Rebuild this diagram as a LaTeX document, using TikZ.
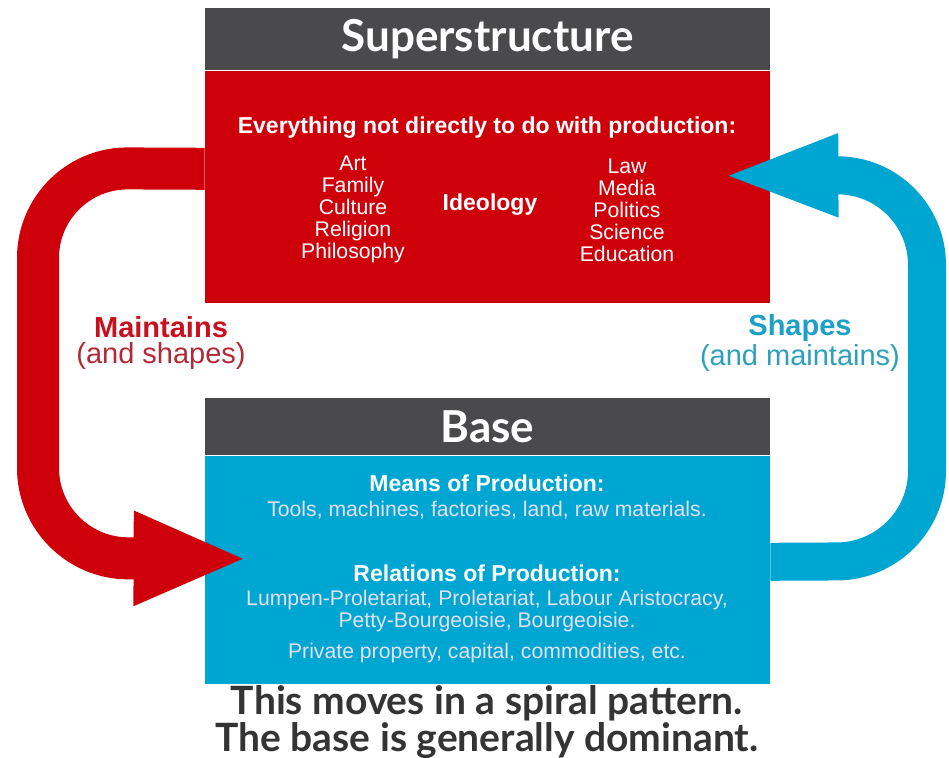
\documentclass[tikz,border=0pt]{standalone}
\usepackage{fontspec}
\setmainfont{Liberation Sans}
\newfontfamily\gillfont{Lato}
\usepackage{tikz}
\usetikzlibrary{arrows.meta,positioning,calc}

\definecolor{hdrgray}{RGB}{74,74,76}
\definecolor{suprred}{RGB}{206,0,10}
\definecolor{basecyan}{RGB}{0,166,210}
\definecolor{basetext}{RGB}{228,224,245}
\definecolor{capgray}{RGB}{52,52,52}
\definecolor{mainred}{RGB}{200,16,30}
\definecolor{softred}{RGB}{178,42,56}
\definecolor{shapeblue}{RGB}{28,160,200}
\definecolor{softblue}{RGB}{45,160,190}

\begin{document}
\begin{tikzpicture}[x=0.5pt,y=-0.5pt,
    hdr/.style={fill=hdrgray, text=white, minimum width=282.5pt, inner sep=0pt,
      font=\gillfont\bfseries\fontsize{22}{24}\selectfont},
    panel/.style={minimum width=282.5pt, inner sep=0pt},
    item/.style={text=white, align=center, font=\fontsize{10.6}{11}\selectfont},
    itembold/.style={item, font=\bfseries\fontsize{11.5}{12}\selectfont},
    flow/.style={line width=21pt, rounded corners=45pt},
    caption/.style={text=capgray, align=center, inner sep=0pt,
      font=\gillfont\bfseries\fontsize{19.5}{17.5}\selectfont}]

    \fill[white] (0,0) rectangle (949,758);
    \useasboundingbox (0,0) rectangle (949,758);

    % superstructure
    \node[hdr, minimum height=31pt] (suphead) at (487.5,39) {Superstructure};
    \node[panel, fill=suprred, minimum height=116pt, below=0pt of suphead] (supbody) {};
    % base
    \node[hdr, minimum height=28.5pt] (basehead) at (487.5,426.5) {Base};
    \node[panel, fill=basecyan, minimum height=114pt, below=0pt of basehead] (basebody) {};

    % arrows
    \coordinate (mstart) at ($(supbody.west)+(0,-18)$);
    \coordinate (mtip) at ($(basebody.west)+(43,-11)$);
    \draw[flow, suprred, -{Triangle[length=57pt,width=43pt]}]
      (mstart) -- (38,168) -- (38,558) -- (mtip);
    \coordinate (sstart) at ($(basebody.east)+(0,-8)$);
    \coordinate (stip) at ($(supbody.east)+(-50,-11)$);
    \draw[flow, basecyan, line width=19pt, -{Triangle[length=59pt,width=37pt]}]
      (sstart) -- (927,561) -- (927,175) -- (stip);

    % superstructure text
    \node[itembold] (everything) at (487,128) {Everything not directly to do with production:};
    \node[item] (leftcol) at (353,209) {Art\\Family\\Culture\\Religion\\Philosophy};
    \node[itembold] (ideology) at (490,205) {Ideology};
    \node[item] (rightcol) at (627,210) {Law\\Media\\Politics\\Science\\Education};

    % base text
    \node[itembold] (means) at (487,483) {Means of Production:};
    \node[item, text=basetext] (tools) at (487,510) {Tools, machines, factories, land, raw materials.};
    \node[itembold] (relations) at (487,573) {Relations of Production:};
    \node[item, text=basetext] (classes) at (487,611)
      {Lumpen-Proletariat, Proletariat, Labour Aristocracy,\\Petty-Bourgeoisie, Bourgeoisie.};
    \node[item, text=basetext] (property) at (487,653) {Private property, capital, commodities, etc.};

    % side labels
    \node[align=center, font=\fontsize{14.5}{13}\selectfont] (maintains) at (161,343)
      {\textcolor{mainred}{\bfseries Maintains}\\\textcolor{softred}{(and shapes)}};
    \node[align=center, font=\fontsize{14.5}{13}\selectfont] (shapes) at (800,343)
      {\textcolor{shapeblue}{\bfseries Shapes}\\\textcolor{softblue}{(and maintains)}};

    % bottom
    \node[caption] (spiral) at (487,722)
      {This moves in a spiral pattern.\\The base is generally dominant.};
\end{tikzpicture}
\end{document}
